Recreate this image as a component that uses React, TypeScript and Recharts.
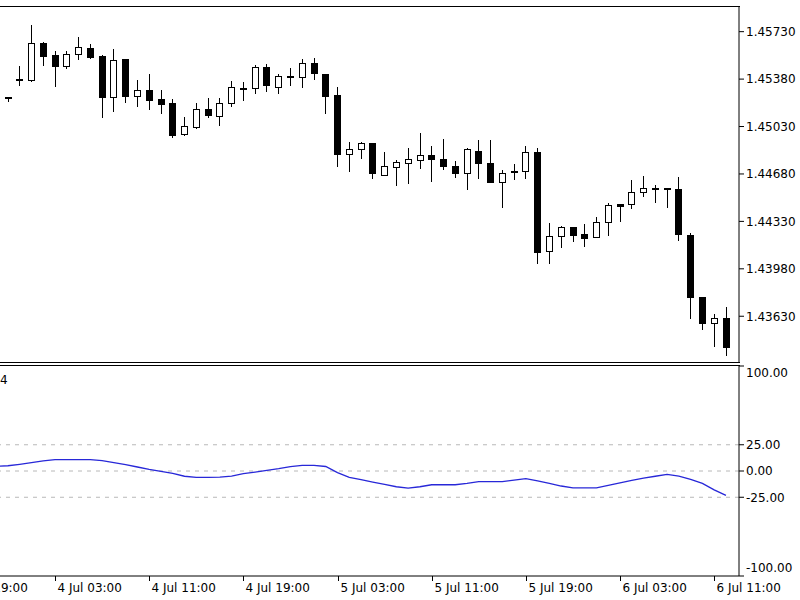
import { ComposedChart, LineChart, Line, Bar, XAxis, YAxis, ReferenceLine } from 'recharts';

// hourly bars, index 0 = 4 Jul 03:00, first visible bar is 3 Jul 22:00
const firstBar = -5;

const opens = [
  1.45281, 1.45248, 1.45377, 1.45374, 1.45649, 1.45558, 1.45477, 1.45565, 1.45612, 1.45548,
  1.45246, 1.45526, 1.45258, 1.453, 1.45233, 1.45202, 1.44975, 1.45029, 1.45157, 1.45108,
  1.45206, 1.45309, 1.45312, 1.45472, 1.45324, 1.45399, 1.45394, 1.45501, 1.45418, 1.45263,
  1.44828, 1.44862, 1.44907, 1.44673, 1.44729, 1.44763, 1.44783, 1.4482, 1.44788, 1.44741,
  1.44685, 1.4485, 1.44759, 1.44623, 1.44698, 1.447, 1.4484, 1.44112, 1.44222, 1.44287,
  1.44235, 1.44213, 1.44328, 1.44456, 1.44459, 1.44545, 1.44572, 1.44577, 1.44567, 1.44232,
  1.43775, 1.43578, 1.43615,
];
const closes = [
  1.4527, 1.45245, 1.45381, 1.45644, 1.45551, 1.45477, 1.45568, 1.45619, 1.45541, 1.45246,
  1.45523, 1.45256, 1.453, 1.45226, 1.45197, 1.44968, 1.45034, 1.45157, 1.45115, 1.45206,
  1.4532, 1.45315, 1.45472, 1.45337, 1.45403, 1.45403, 1.45501, 1.45423, 1.45256, 1.44825,
  1.44862, 1.44907, 1.44685, 1.44739, 1.44766, 1.44788, 1.4482, 1.44791, 1.44741, 1.44685,
  1.44864, 1.44763, 1.44623, 1.4469, 1.44702, 1.4484, 1.44107, 1.44222, 1.44287, 1.4423,
  1.4421, 1.44328, 1.44451, 1.44444, 1.44545, 1.44577, 1.44574, 1.44572, 1.44237, 1.43775,
  1.43578, 1.43615, 1.43406,
];
const highs = [
  1.45292, 1.4525, 1.45479, 1.45779, 1.45656, 1.4559, 1.4559, 1.45689, 1.45637, 1.45558,
  1.456, 1.45526, 1.45374, 1.45416, 1.453, 1.45233, 1.45103, 1.45202, 1.45243, 1.45243,
  1.45366, 1.45361, 1.45484, 1.45492, 1.45418, 1.4546, 1.45526, 1.45538, 1.45418, 1.4532,
  1.44918, 1.44918, 1.44907, 1.4484, 1.44783, 1.44874, 1.44985, 1.44887, 1.44938, 1.44776,
  1.44874, 1.44931, 1.44931, 1.44709, 1.44754, 1.44884, 1.44874, 1.44321, 1.44296, 1.44289,
  1.44311, 1.44365, 1.44464, 1.44456, 1.44636, 1.44665, 1.44599, 1.44577, 1.44656, 1.44247,
  1.43775, 1.43647, 1.43701,
];
const lows = [
  1.45256, 1.45219, 1.45337, 1.45368, 1.45484, 1.45332, 1.45464, 1.45529, 1.45534, 1.45103,
  1.45147, 1.45213, 1.45182, 1.4516, 1.45128, 1.44955, 1.44968, 1.45017, 1.45098, 1.45042,
  1.45182, 1.45226, 1.4528, 1.45295, 1.4528, 1.45337, 1.45324, 1.45379, 1.45128, 1.44739,
  1.44704, 1.44796, 1.44653, 1.44673, 1.44599, 1.44611, 1.44722, 1.44628, 1.44717, 1.4466,
  1.44567, 1.44648, 1.44623, 1.44434, 1.44643, 1.44653, 1.44021, 1.44021, 1.44144, 1.44186,
  1.44151, 1.44213, 1.4423, 1.44335, 1.44427, 1.4452, 1.44476, 1.44434, 1.44193, 1.4362,
  1.43534, 1.43411, 1.43344,
];
const cciValues = [
  4.5, 5, 6.4, 8, 9.6, 10.8, 10.8, 10.8, 10.8, 9.9,
  7.9, 6, 3.8, 1.6, -0.3, -2.2, -5, -6, -6, -5.8,
  -4.8, -2.6, -1, 0.6, 2.2, 4.1, 5.4, 5.4, 4.3, -1.5,
  -6, -8.3, -10.5, -12.7, -15, -16.3, -15, -13.1, -13.1, -13.1,
  -11.8, -10.2, -10.2, -10.2, -8.6, -7.3, -9.3, -11.8, -14.3, -16,
  -16, -16, -13.7, -11.2, -8.9, -6.7, -5, -3.2, -4.8, -7.9,
  -11.8, -18, -23.2,
];

const priceTicks = [1.4363, 1.4398, 1.4433, 1.4468, 1.4503, 1.4538, 1.4573];
const cciTicks = [-100, -25, 0, 25, 100];
const cciLevels = [25, 0, -25];
const timeTickBars = [-8, 0, 8, 16, 24, 32, 40, 48, 56];
const timeLabels = [
  '3 Jul 19:00', '4 Jul 03:00', '4 Jul 11:00', '4 Jul 19:00', '5 Jul 03:00',
  '5 Jul 11:00', '5 Jul 19:00', '6 Jul 03:00', '6 Jul 11:00',
];

const candles = opens.map((open, k) => ({
  i: k + firstBar,
  open,
  close: closes[k],
  high: highs[k],
  low: lows[k],
  range: [lows[k], highs[k]],
  cci: cciValues[k],
}));

const xDomain = [-4.673, 58.11];
const font = '"DejaVu Sans", sans-serif';

const Candle = (props: any) => {
  const { x, y, width, height, payload } = props;
  const { open, close, high, low } = payload;
  const cx = Math.round(x + width / 2) + 0.5;
  const toY = (v: number) => (high === low ? y : y + ((high - v) / (high - low)) * height);
  const top = Math.round(toY(Math.max(open, close))) + 0.5;
  const bottom = Math.round(toY(Math.min(open, close))) + 0.5;
  const up = close >= open;
  return (
    <g>
      <line x1={cx} x2={cx} y1={Math.round(y)} y2={Math.round(y + height) + 1} stroke="#000" />
      <rect
        x={cx - 3}
        y={top}
        width={6}
        height={Math.max(bottom - top, 1)}
        fill={up ? '#fff' : '#000'}
        stroke="#000"
      />
    </g>
  );
};

const PriceTick = (props: any) => {
  const { x, y, payload } = props;
  return (
    <text x={x} y={y} dy="0.36em" fontSize={12} fill="#000" textAnchor="start" fontFamily={font}>
      {payload.value.toFixed(5)}
    </text>
  );
};

const CciTick = (props: any) => {
  const { x, y, payload } = props;
  const shift = payload.value === 100 ? 7 : payload.value === -100 ? -8 : 0;
  return (
    <text x={x} y={y + shift} dy="0.36em" fontSize={12} fill="#000" textAnchor="start" fontFamily={font}>
      {payload.value.toFixed(2)}
    </text>
  );
};

const TimeTick = (props: any) => {
  const { x, y, payload } = props;
  const px = Math.round(x) + 0.5;
  const label = timeLabels[timeTickBars.indexOf(payload.value)];
  return (
    <g>
      <line x1={px} x2={px} y1={y} y2={y + 5} stroke="#000" />
      <text x={px + 2} y={y + 16} fontSize={12} fill="#000" textAnchor="start" fontFamily={font}>
        {label}
      </text>
    </g>
  );
};

export default function App() {
  return (
    <div
      style={{
        position: 'absolute',
        left: 0,
        top: 0,
        width: 800,
        height: 600,
        background: '#fff',
        overflow: 'hidden',
        fontFamily: font,
      }}
    >
      <div style={{ position: 'absolute', left: 0, top: 0 }}>
        <ComposedChart width={800} height={364} data={candles} margin={{ top: 7, right: 0, bottom: 1, left: 0 }}>
          <XAxis dataKey="i" type="number" domain={xDomain} allowDataOverflow hide />
          <YAxis
            orientation="right"
            width={61}
            domain={[1.43285, 1.45912]}
            allowDataOverflow
            ticks={priceTicks}
            interval={0}
            axisLine={{ stroke: '#000' }}
            tickLine={{ stroke: '#000' }}
            tickSize={5}
            tickMargin={2}
            tick={<PriceTick />}
          />
          <Bar dataKey="range" barSize={7} shape={<Candle />} isAnimationActive={false} />
        </ComposedChart>
      </div>

      <div style={{ position: 'absolute', left: 0, top: 364 }}>
        <LineChart width={800} height={236} data={candles} margin={{ top: 2, right: 0, bottom: 0, left: 0 }}>
          <XAxis
            dataKey="i"
            type="number"
            domain={xDomain}
            allowDataOverflow
            ticks={timeTickBars}
            interval={0}
            height={24}
            axisLine={{ stroke: '#000' }}
            tickLine={false}
            tickSize={0}
            tickMargin={0}
            tick={<TimeTick />}
          />
          <YAxis
            orientation="right"
            width={61}
            domain={[-100, 100]}
            ticks={cciTicks}
            interval={0}
            axisLine={{ stroke: '#000' }}
            tickLine={{ stroke: '#000' }}
            tickSize={5}
            tickMargin={2}
            tick={<CciTick />}
          />
          {cciLevels.map((v) => (
            <ReferenceLine key={v} y={v} stroke="#b8b8b8" strokeDasharray="4 5" />
          ))}
          <Line
            type="linear"
            dataKey="cci"
            stroke="#2828d8"
            strokeWidth={1.3}
            dot={false}
            isAnimationActive={false}
          />
        </LineChart>
      </div>

      {/* panel frames */}
      <div style={{ position: 'absolute', left: 0, top: 6, width: 740, height: 1, background: '#000' }} />
      <div style={{ position: 'absolute', left: 0, top: 362, width: 740, height: 1, background: '#000' }} />
      <div style={{ position: 'absolute', left: 0, top: 365, width: 740, height: 1, background: '#000' }} />
      <div style={{ position: 'absolute', left: 0, top: 373, fontSize: 12, lineHeight: '14px', color: '#000' }}>4</div>
    </div>
  );
}
